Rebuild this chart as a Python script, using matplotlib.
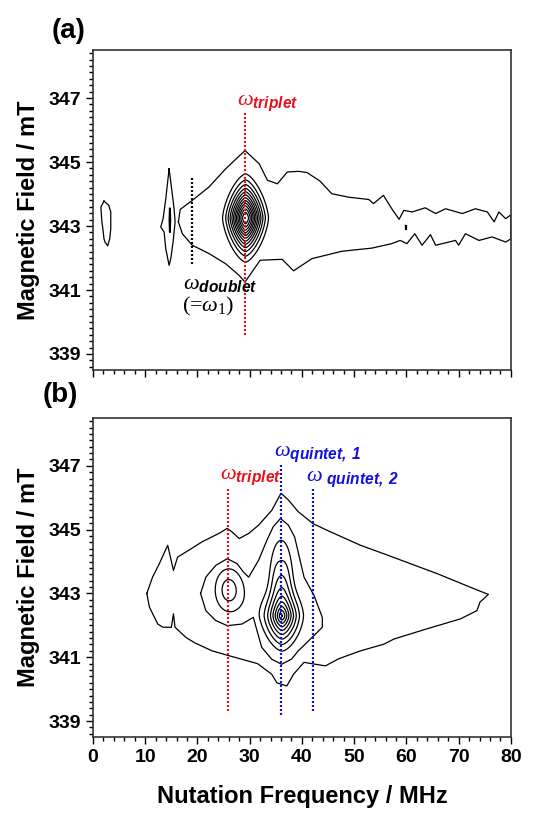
import numpy as np
import matplotlib
matplotlib.use("Agg")
import matplotlib.pyplot as plt
from matplotlib.ticker import MultipleLocator, NullFormatter

# Fonts: Arial-like bold labels, serif italic omega in the math text
plt.rcParams['font.family'] = ['Liberation Sans', 'DejaVu Sans']
plt.rcParams['mathtext.fontset'] = 'custom'
plt.rcParams['mathtext.rm'] = 'Liberation Serif'
plt.rcParams['mathtext.it'] = 'Liberation Serif:italic'
plt.rcParams['mathtext.bf'] = 'Liberation Sans:italic:bold'

RED = '#e8101a'
BLUE = '#1010e0'

# ---- panel (a): outermost contour (MHz, mT) ----
a_outer_x = [16.35, 16.7, 19.0, 22.2, 25.4, 29.1, 31.8, 33.4, 35.3, 37.2, 39.4, 41.0, 43.5, 45.7,
             49.0, 52.8, 53.7, 55.6, 57.2, 58.6, 59.5, 61.1, 63.6, 65.6, 67.5, 70.7, 73.2, 75.5,
             76.8, 77.7, 79.0, 80.0, 80.0,
             79.0, 76.4, 73.9, 71.3, 70.0, 69.4, 65.6, 64.6, 63.0, 61.6, 60.1, 58.8, 57.2, 53.4,
             47.6, 41.9, 38.4, 36.2, 32.0, 29.1, 27.95, 25.4, 22.2, 19.0, 17.1, 16.35]
a_outer_y = [343.13, 343.52, 343.80, 344.22, 344.79, 345.36, 344.95, 344.43, 344.32, 344.69, 344.71,
             344.67, 344.40, 344.01, 343.90, 343.83, 343.70, 343.96, 343.54, 343.21, 343.49, 343.44,
             343.57, 343.39, 343.54, 343.39, 343.54, 343.44, 343.13, 343.44, 343.23, 343.35, 342.60,
             342.50, 342.66, 342.55, 342.76, 342.40, 342.55, 342.40, 342.73, 342.40, 342.76, 342.45,
             342.55, 342.45, 342.31, 342.21, 341.98, 341.60, 341.96, 341.93, 341.25, 341.46, 341.82,
             342.14, 342.40, 342.76, 343.13]

# narrow ridge near 15 MHz
a_spike_x = [14.57, 14.89, 15.52, 15.72, 15.33, 14.89, 14.57, 13.93, 13.61, 12.97, 13.42, 13.93, 14.57]
a_spike_y = [344.79, 344.38, 343.54, 343.13, 342.50, 341.98, 341.77, 342.29, 342.81, 342.97,
             343.23, 343.85, 344.79]
a_spike_in_x = [14.72, 14.80, 14.72, 14.64, 14.72]
a_spike_in_y = [343.54, 343.20, 342.81, 343.20, 343.54]

# small island near 2 MHz
a_island_x = [2.1, 3.0, 3.4, 3.4, 3.2, 2.8, 2.3, 2.1, 1.9, 1.7, 1.5, 2.1]
a_island_y = [343.78, 343.65, 343.44, 342.92, 342.60, 342.38, 342.50, 342.60, 342.90, 343.13,
              343.59, 343.78]

# tiny speck near 60 MHz
a_dot_x = [59.7, 59.9, 59.9, 59.7, 59.7]
a_dot_y = [343.02, 343.02, 342.92, 342.92, 343.02]

# central triplet peak of (a): centre, widths, height, profile / footprint exponents
a_peak_x = [29.2]
a_peak_y = [343.25]
a_peak_sx = [1.88]
a_peak_sy = [0.59]
a_peak_amp = [14.0]
a_peak_p = [1.6]
a_peak_q = [1.5]
a_levels = [2, 3, 4, 5, 6, 7, 8, 9, 10, 11, 12, 13]

# ---- panel (b): outermost contour ----
b_outer_x = [10.3, 11.4, 12.6, 14.3, 15.4, 16.2, 17.8, 20.9, 24.1, 25.7, 26.6, 28.0, 29.8, 31.7,
             34.2, 36.0, 37.4, 39.3, 42.1, 44.8, 51.2, 56.9, 60.8, 65.9, 72.9, 75.7,
             74.1, 73.5, 70.3, 63.9, 57.6, 55.7, 51.2, 47.0, 44.5, 42.2, 40.4, 38.4, 37.1, 35.2,
             34.2, 31.5, 26.0, 22.8, 19.5, 17.8, 15.7, 15.4, 15.0, 13.4, 12.4, 10.8, 10.3]
b_outer_y = [343.00, 343.51, 343.90, 344.51, 343.72, 344.14, 344.30, 344.62, 344.88, 345.04, 344.93,
             344.72, 344.88, 345.14, 345.60, 346.14, 345.93, 345.56, 345.19, 344.98, 344.51, 344.17,
             343.93, 343.62, 343.15, 342.97,
             342.73, 342.46, 342.20, 341.89, 341.57, 341.41, 341.20, 340.95, 340.73, 340.79, 340.84,
             340.47, 340.10, 340.20, 340.47, 340.80, 341.05, 341.20, 341.45, 341.62, 341.94, 342.36,
             341.94, 341.94, 342.04, 342.57, 343.00]

# second contour of (b), the one that wraps both the triplet and the quintet peak
b_second_x = [20.6, 21.6, 23.5, 25.7, 27.6, 28.8, 29.8, 31.7, 33.3, 34.5, 35.9, 37.4, 38.6, 40.4,
              42.3, 43.9, 43.9, 42.3, 39.3, 38.0, 36.1, 34.2, 32.3, 31.4, 30.7, 28.5, 25.7, 23.5,
              21.6, 20.6]
b_second_y = [343.00, 343.51, 343.88, 344.09, 343.93, 343.67, 343.51, 344.04, 344.67, 345.09, 345.35,
              345.14, 344.77, 343.51, 342.94, 342.25, 341.94, 341.68, 341.20, 340.94, 340.78, 340.94,
              341.31, 341.83, 342.25, 342.04, 341.99, 342.15, 342.46, 343.00]

# inner peaks of (b): triplet, quintet main, quintet upper part
b_peak_x = [25.9, 36.2, 36.0]
b_peak_y = [343.12, 342.3, 344.1]
b_peak_sx = [2.93, 1.85, 2.2]
b_peak_sy = [0.75, 0.5, 1.0]
b_peak_amp = [4.25, 11.0, 2.8]
b_peak_p = [2.0, 1.2, 3.0]
b_peak_q = [2.0, 1.6, 2.0]
b_levels = [3, 4, 5, 6, 7, 8, 9, 10, 11, 12]

# dotted marker lines
a_mark_x = [18.9, 29.1]
a_mark_lo = [341.8, 339.6]
a_mark_hi = [344.5, 346.55]
a_mark_col = ['black', RED]

b_mark_x = [25.8, 35.9, 42.1]
b_mark_lo = [339.3, 339.2, 339.3]
b_mark_hi = [346.35, 347.1, 346.35]
b_mark_col = [RED, BLUE, BLUE]


def peak_field(X, Y, px, py, sx, sy, amp, pp, qq):
    # sum of peaks A*exp(-r^p/2), r measured with a q-norm (q<2 gives a pointed footprint)
    Z = np.zeros_like(X)
    for x0, y0, wx, wy, a, p, q in zip(px, py, sx, sy, amp, pp, qq):
        r = (np.abs((X - x0) / wx) ** q + np.abs((Y - y0) / wy) ** q) ** (1.0 / q)
        Z += a * np.exp(-0.5 * r ** p)
    return Z


xg = np.linspace(0, 80, 801)
yg = np.linspace(338.5, 348.5, 501)
X, Y = np.meshgrid(xg, yg)

fig = plt.figure(figsize=(5.33, 8.16), dpi=100)
ax_a = fig.add_axes([0.1745, 0.5466, 0.784, 0.392])
ax_b = fig.add_axes([0.1745, 0.0968, 0.784, 0.391])

lw = 0.9

# panel (a)
ax_a.plot(a_outer_x, a_outer_y, color='black', lw=lw)
ax_a.plot(a_spike_x, a_spike_y, color='black', lw=lw)
ax_a.plot(a_spike_in_x, a_spike_in_y, color='black', lw=1.4)
ax_a.plot(a_island_x, a_island_y, color='black', lw=lw)
ax_a.plot(a_dot_x, a_dot_y, color='black', lw=lw)
Za = peak_field(X, Y, a_peak_x, a_peak_y, a_peak_sx, a_peak_sy, a_peak_amp, a_peak_p, a_peak_q)
ax_a.contour(X, Y, Za, levels=a_levels, colors='black', linewidths=lw)
for x, lo, hi, c in zip(a_mark_x, a_mark_lo, a_mark_hi, a_mark_col):
    ax_a.plot([x, x], [lo, hi], color=c, lw=1.6, linestyle=(0, (0.9, 0.9)))

ax_a.text(27.6, 346.85, r'$\omega_{\mathbf{triplet}}$', color=RED, fontsize=16, va='center')
ax_a.text(17.2, 341.2, r'$\omega_{\mathbf{doublet}}$', color='black', fontsize=16, va='center')
ax_a.text(17.0, 340.5, r'(=$\omega_1$)', color='black', fontsize=16, va='center',
          family='Liberation Serif')

# panel (b)
ax_b.plot(b_outer_x, b_outer_y, color='black', lw=lw)
ax_b.plot(b_second_x, b_second_y, color='black', lw=lw)
Zb = peak_field(X, Y, b_peak_x, b_peak_y, b_peak_sx, b_peak_sy, b_peak_amp, b_peak_p, b_peak_q)
ax_b.contour(X, Y, Zb, levels=b_levels, colors='black', linewidths=lw)
for x, lo, hi, c in zip(b_mark_x, b_mark_lo, b_mark_hi, b_mark_col):
    ax_b.plot([x, x], [lo, hi], color=c, lw=1.6, linestyle=(0, (0.9, 0.9)))

ax_b.text(34.6, 347.4, r'$\omega_{\mathbf{quintet,\ 1}}$', color=BLUE, fontsize=16, va='center')
ax_b.text(24.3, 346.65, r'$\omega_{\mathbf{triplet}}$', color=RED, fontsize=16, va='center')
ax_b.text(40.7, 346.6, r'$\omega\;{}_{\mathbf{quintet,\ 2}}$', color=BLUE, fontsize=16, va='center')

# axes styling shared by both panels
for ax in (ax_a, ax_b):
    ax.set_xlim(0, 80)
    ax.set_ylim(338.5, 348.5)
    ax.xaxis.set_major_locator(MultipleLocator(10))
    ax.xaxis.set_minor_locator(MultipleLocator(2))
    ax.yaxis.set_major_locator(MultipleLocator(2, offset=1))
    ax.yaxis.set_minor_locator(MultipleLocator(0.2))
    ax.tick_params(which='both', direction='out', top=False, right=False, width=1.0)
    ax.tick_params(which='major', length=5, labelsize=14)
    ax.tick_params(which='minor', length=3)
    for s in ax.spines.values():
        s.set_linewidth(1.2)
        s.set_color('#333333')
    ax.set_ylabel('Magnetic Field / mT', fontsize=17, fontweight='bold', labelpad=6)

ax_a.xaxis.set_major_formatter(NullFormatter())
ax_b.set_xlabel('Nutation Frequency / MHz', fontsize=17, fontweight='bold', labelpad=14)
for lab in ax_b.get_xticklabels() + ax_b.get_yticklabels() + ax_a.get_yticklabels():
    lab.set_fontweight('bold')

fig.text(0.097, 0.962, '(a)', fontsize=20, fontweight='bold', ha='left', va='center')
fig.text(0.080, 0.516, '(b)', fontsize=20, fontweight='bold', ha='left', va='center')

fig.savefig('out.png', dpi=100)
